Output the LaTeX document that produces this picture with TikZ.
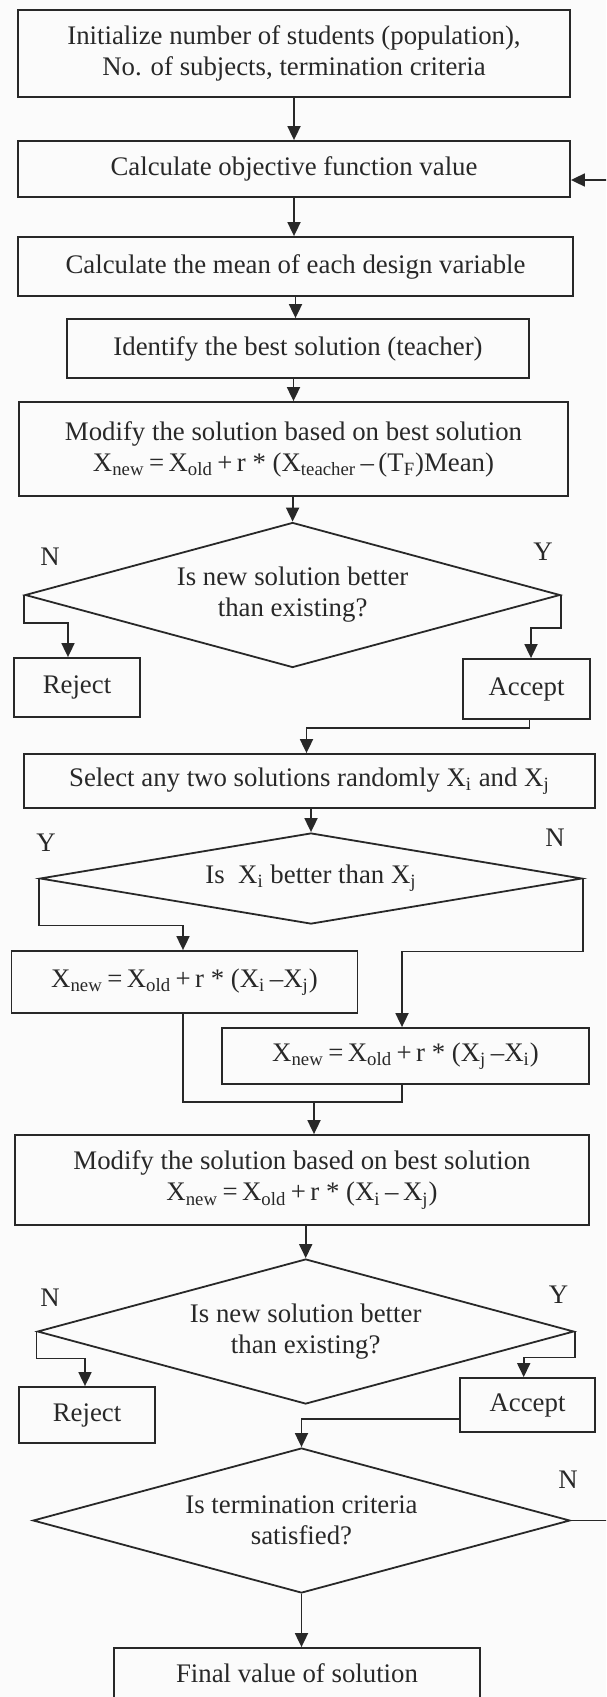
\documentclass[tikz,border=0pt]{standalone}
\usepackage{fontspec}
\setmainfont{Liberation Serif}
\usetikzlibrary{arrows.meta,shapes.geometric,calc}
\definecolor{bgc}{RGB}{251,251,251}
\definecolor{ink}{RGB}{40,40,40}
\begin{document}
\begin{tikzpicture}[x=0.5pt,y=-0.5pt,
  line width=0.9pt, draw=ink, text=ink,
  every node/.style={font=\fontsize{13.4pt}{15.5pt}\selectfont},
  box/.style={draw=ink, rectangle, inner sep=0pt, align=center},
  dia/.style={draw=ink, diamond, aspect=4, inner sep=0pt, align=center},
  lbl/.style={inner sep=0pt},
  arr/.style={-{Triangle[width=6.5pt,length=7pt]}}]
\clip (0,0) rectangle (606,1697);
\fill[bgc] (0,0) rectangle (606,1697);

% nodes
\node[box, minimum width=276pt, minimum height=43.5pt] (b1) at (294,53.5) {Initialize number of students (population),\\No. of subjects, termination criteria};
\node[box, minimum width=276pt, minimum height=28pt] (b2) at (294,169) {Calculate objective function value};
\node[box, minimum width=277.5pt, minimum height=29.5pt] (b3) at (295.5,266.5) {Calculate the mean of each design variable};
\node[box, minimum width=231pt, minimum height=29.5pt] (b4) at (298,348.5) {Identify the best solution (teacher)};
\node[box, minimum width=274.5pt, minimum height=47pt] (b5) at (293.5,449) {Modify the solution based on best solution\\X\textsubscript{new}\,=\,X\textsubscript{old}\,+\,r * (X\textsubscript{teacher}\,–\,(T\textsubscript{F})Mean)};
\node[dia, minimum width=267.5pt, minimum height=72.5pt] (d1) at (292.6,595) {Is new solution better\\than existing?};
\node[box, minimum width=63.25pt, minimum height=29.5pt] (rej1) at (77,687.5) {Reject};
\node[box, minimum width=63.5pt, minimum height=30pt] (acc1) at (526.5,689) {Accept};
\node[box, minimum width=285.5pt, minimum height=27pt] (b6) at (309.5,781) {Select any two solutions randomly X\textsubscript{i} and X\textsubscript{j}};
\node[dia, minimum width=271pt, minimum height=45.5pt] (d2) at (311,878.5) {Is\ \ X\textsubscript{i} better than X\textsubscript{j}};
\node[box, minimum width=173pt, minimum height=31pt] (b7) at (184.5,982) {X\textsubscript{new}\,=\,X\textsubscript{old}\,+\,r * (X\textsubscript{i}\,–X\textsubscript{j})};
\node[box, minimum width=183.5pt, minimum height=28pt] (b8) at (405.5,1056) {X\textsubscript{new}\,=\,X\textsubscript{old}\,+\,r * (X\textsubscript{j}\,–X\textsubscript{i})};
\node[box, minimum width=287pt, minimum height=45pt] (b9) at (302,1180) {Modify the solution based on best solution\\X\textsubscript{new}\,=\,X\textsubscript{old}\,+\,r * (X\textsubscript{i}\,–\,X\textsubscript{j})};
\node[dia, minimum width=268.25pt, minimum height=72.5pt] (d3) at (305.7,1331.5) {Is new solution better\\than existing?};
\node[box, minimum width=68pt, minimum height=28pt] (rej2) at (87,1415) {Reject};
\node[box, minimum width=67.5pt, minimum height=27pt] (acc2) at (527.5,1405) {Accept};
\node[dia, minimum width=268.5pt, minimum height=72.5pt] (d4) at (301.5,1520.5) {Is termination criteria\\satisfied?};
\node[box, minimum width=183pt, minimum height=25pt] (fin) at (297,1673) {Final value of solution};

% labels
\node[lbl] (l1) at (50,557) {N};
\node[lbl] (l2) at (543,552) {Y};
\node[lbl] (l3) at (46,843) {Y};
\node[lbl] (l4) at (555,838) {N};
\node[lbl] (l5) at (50,1298) {N};
\node[lbl] (l6) at (558.5,1295) {Y};
\node[lbl] (l7) at (568,1480) {N};

% connectors
\draw[arr] (b1.south) -- (b2.north);
\draw[arr] (b2.south) -- (b2.south |- b3.north);
\draw[arr] (b3.south) -- (b3.south |- b4.north);
\draw[arr] (b5.north |- b4.south) -- (b5.north);
\draw[arr] (d1.north |- b5.south) -- (d1.north);
\draw[arr] (d1.west) -- ++(0,28) -| ($(rej1.north)+(-9,0)$);
\draw[arr] (d1.east) -- ++(0,33) -| ($(acc1.north)+(4.5,0)$);
\draw[arr] ($(acc1.south)+(3,0)$) -- ++(0,8) -| ($(b6.north)+(-3,0)$);
\draw[arr] (d2.north |- b6.south) -- (d2.north);
\draw[arr] (d2.west) -- ++(0,47) -| ($(b7.north)+(-1.5,0)$);
\draw[arr] (d2.east) -- ++(0,73) -| ($(b8.north)+(-3.5,0)$);
\coordinate (mj) at (314,1102);
\draw ($(b7.south)+(-1.5,0)$) |- (mj) -| ($(b8.south)+(-3.5,0)$);
\draw[arr] (mj) -- (mj |- b9.north);
\draw[arr] (d3.north |- b9.south) -- (d3.north);
\draw[arr] (d3.west) -- ++(0,27) -| ($(rej2.north)+(-2,0)$);
\draw[arr] (d3.east) -- ++(0,26) -| ($(acc2.north)+(-3.8,0)$);
\draw[arr] ($(acc2.west)+(0,14)$) -| (d4.north);
\coordinate (rt) at (640,180);
\draw (d4.east) -- (d4.east -| rt);
\draw[arr] (rt) -- (rt -| b2.east);
\draw[arr] (d4.south) -- (d4.south |- fin.north);
\end{tikzpicture}
\end{document}
